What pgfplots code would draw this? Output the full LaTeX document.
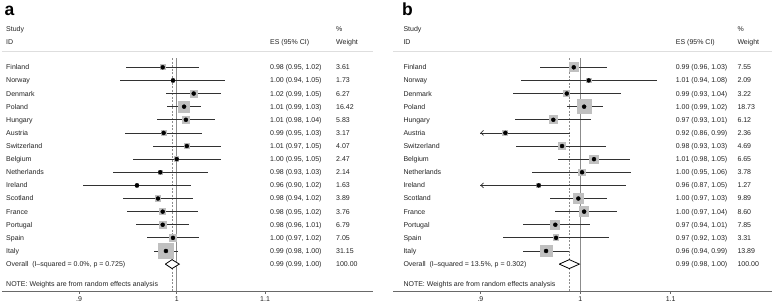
\documentclass[border=0pt]{standalone}
\usepackage{pgfplots}
\pgfplotsset{compat=1.18}
\usepackage{pgfplotstable}
\usepackage{fontspec}
\setmainfont{Liberation Sans}
\usetikzlibrary{arrows.meta}
\definecolor{cigray}{RGB}{50,50,50}
\definecolor{boxgray}{RGB}{192,192,192}
\definecolor{nullgray}{RGB}{140,140,140}
\definecolor{rulegray}{RGB}{222,222,222}
\definecolor{axgray}{RGB}{105,105,105}
\definecolor{txt}{RGB}{35,35,35}

% panel a: row, effect size, CI low, CI high, weight
\pgfplotstableread{
row es lo hi w
1 0.985 0.947 1.024 3.61
2 0.996 0.941 1.054 1.73
3 1.0185 0.9885 1.049 6.27
4 1.008 0.9896 1.027 16.42
5 1.010 0.979 1.042 5.83
6 0.986 0.946 1.028 3.17
7 1.011 0.975 1.049 4.07
8 1.000 0.954 1.049 2.47
9 0.9825 0.934 1.034 2.14
10 0.958 0.9036 1.0155 1.63
11 0.980 0.944 1.018 3.89
12 0.985 0.948 1.023 3.76
13 0.985 0.957 1.013 6.79
14 0.996 0.9685 1.024 7.05
15 0.9885 0.9758 1.0017 31.15
}\tabA

% panel b
\pgfplotstableread{
row es lo hi w
1 0.9931 0.9584 1.0289 7.55
2 1.0089 0.939 1.0839 2.09
3 0.9858 0.9312 1.0439 3.22
4 1.004 0.986 1.0246 18.73
5 0.9719 0.9334 1.0114 6.12
6 0.924 0.86 0.9895 2.36
7 0.9809 0.934 1.0275 4.69
8 1.0145 0.9765 1.0538 6.65
9 1.0018 0.9506 1.0553 3.78
10 0.957 0.87 1.0497 1.27
11 0.9979 0.9686 1.0286 9.89
12 1.004 0.9734 1.0391 8.60
13 0.974 0.9416 1.0099 7.85
14 0.9747 0.9214 1.031 3.31
15 0.9645 0.9416 0.9882 13.89
}\tabB

\newcommand{\ft}{\fontsize{7bp}{8bp}\selectfont}

\pgfplotsset{
  forest/.style={
    scale only axis, height=276.18bp,
    ymin=-18.05, ymax=3,
    axis x line=bottom, axis y line=none,
    x axis line style={-, draw=axgray, line width=0.7bp},
    xtick={0.9,1,1.1}, xticklabels={.9,1,1.1},
    minor xtick={},
    tick align=outside, major tick length=3bp,
    xtick style={draw=axgray, line width=0.7bp},
    xticklabel style={font=\ft, text=txt, inner sep=1bp, yshift=-1.5bp},
    clip=false,
  },
  boxes/.style={scatter, only marks, mark=square*,
    mark options={draw=boxgray, fill=boxgray, line width=0pt},
    scatter/use mapped color={draw=boxgray, fill=boxgray}},
}

\begin{document}
\begin{tikzpicture}[tx/.style={anchor=base west, inner sep=0pt, font=\ft, text=txt}]
\useasboundingbox (0,0) rectangle (778bp,304bp);

% ---------------- panel a ----------------
\begin{axis}[xmode=log, forest, at={(2bp,13bp)}, anchor=south west, width=371bp,
  xmin=0.8282, xmax=1.2359]
\addplot[rulegray, line width=0.9bp] coordinates {(0.8282,0.19) (1.2359,0.19)};
\addplot[nullgray, line width=1.4bp] coordinates {(1,-0.31) (1,-18.05)};
\addplot[draw=nullgray, line width=0.6bp, dash pattern=on 2bp off 1.5bp] coordinates {(0.995,-0.31) (0.995,-18.05)};
\addplot[boxgray, boxes,
  visualization depends on={1.4*sqrt(\thisrow{w}) \as \boxhalf},
  scatter/@pre marker code/.append style={/tikz/mark size=\boxhalf}]
  table[x=es, y expr=-\thisrow{row}] {\tabA};
\addplot[only marks, mark=none,
  error bars/.cd, x dir=both, x explicit, error mark=none,
  error bar style={draw=cigray, line width=0.8bp, solid}]
  table[x=es, y expr=-\thisrow{row},
    x error minus expr={\thisrow{es}-\thisrow{lo}},
    x error plus expr={\thisrow{hi}-\thisrow{es}}] {\tabA};
\addplot[only marks, mark=diamond*, mark size=1.2bp, black]
  table[x=es, y expr=-\thisrow{row}] {\tabA};
\addplot[black, fill=white, line width=0.8bp, line join=miter]
  coordinates {(0.9878,-16) (0.995,-15.66) (1.0028,-16) (0.995,-16.34) (0.9878,-16)};
\end{axis}

% ---------------- panel b ----------------
\begin{axis}[xmode=log, forest, at={(393bp,13bp)}, anchor=south west, width=378.7bp,
  xmin=0.8207, xmax=1.2237]
\addplot[rulegray, line width=0.9bp] coordinates {(0.8207,0.19) (1.2237,0.19)};
\addplot[nullgray, line width=1.4bp] coordinates {(1,-0.31) (1,-18.05)};
\addplot[draw=nullgray, line width=0.6bp, dash pattern=on 2bp off 1.5bp] coordinates {(0.9885,-0.31) (0.9885,-18.05)};
\addplot[boxgray, boxes,
  visualization depends on={1.6*sqrt(\thisrow{w}) \as \boxhalf},
  scatter/@pre marker code/.append style={/tikz/mark size=\boxhalf}]
  table[x=es, y expr=-\thisrow{row}] {\tabB};
\addplot[only marks, mark=none,
  error bars/.cd, x dir=both, x explicit, error mark=none,
  error bar style={draw=cigray, line width=0.8bp, solid}]
  table[x=es, y expr=-\thisrow{row},
    x error minus expr={\thisrow{es}-max(\thisrow{lo},0.9)},
    x error plus expr={\thisrow{hi}-\thisrow{es}}] {\tabB};
\addplot[cigray, line width=0.8bp, -{Straight Barb[length=2.5bp,width=5bp]}] coordinates {(0.915,-6) (0.9,-6)};
\addplot[cigray, line width=0.8bp, -{Straight Barb[length=2.5bp,width=5bp]}] coordinates {(0.915,-10) (0.9,-10)};
\addplot[only marks, mark=diamond*, mark size=1.2bp, black]
  table[x=es, y expr=-\thisrow{row}] {\tabB};
\addplot[black, fill=white, line width=0.8bp, line join=miter]
  coordinates {(0.978,-16) (0.9885,-15.66) (0.999,-16) (0.9885,-16.34) (0.978,-16)};
\end{axis}

% ---------------- texts ----------------
\node[anchor=base west, inner sep=0pt, font=\fontsize{17.5bp}{18bp}\selectfont\bfseries] at (4.5bp,288bp) {a};
\node[anchor=base west, inner sep=0pt, font=\fontsize{17.5bp}{18bp}\selectfont\bfseries] at (402bp,288bp) {b};

% headers a
\node[tx] at (6bp,272.8bp) {Study};
\node[tx] at (6bp,259.8bp) {ID};
\node[tx] at (270bp,259.8bp) {ES (95\% CI)};
\node[tx] at (336bp,272.8bp) {\%};
\node[tx] at (336bp,259.8bp) {Weight};
% headers b
\node[tx] at (403.3bp,272.8bp) {Study};
\node[tx] at (403.3bp,259.8bp) {ID};
\node[tx] at (675.7bp,259.8bp) {ES (95\% CI)};
\node[tx] at (737.3bp,272.8bp) {\%};
\node[tx] at (737.3bp,259.8bp) {Weight};

\foreach \nm/\es/\wt [count=\i] in {
  Finland/{0.98 (0.95, 1.02)}/3.61,
  Norway/{1.00 (0.94, 1.05)}/1.73,
  Denmark/{1.02 (0.99, 1.05)}/6.27,
  Poland/{1.01 (0.99, 1.03)}/16.42,
  Hungary/{1.01 (0.98, 1.04)}/5.83,
  Austria/{0.99 (0.95, 1.03)}/3.17,
  Switzerland/{1.01 (0.97, 1.05)}/4.07,
  Belgium/{1.00 (0.95, 1.05)}/2.47,
  Netherlands/{0.98 (0.93, 1.03)}/2.14,
  Ireland/{0.96 (0.90, 1.02)}/1.63,
  Scotland/{0.98 (0.94, 1.02)}/3.89,
  France/{0.98 (0.95, 1.02)}/3.76,
  Portugal/{0.98 (0.96, 1.01)}/6.79,
  Spain/{1.00 (0.97, 1.02)}/7.05,
  Italy/{0.99 (0.98, 1.00)}/31.15}{
  \node[tx] at (6bp,{234.2bp-13.12bp*(\i-1)}) {\nm};
  \node[tx] at (270bp,{234.2bp-13.12bp*(\i-1)}) {\es};
  \node[tx] at (336bp,{234.2bp-13.12bp*(\i-1)}) {\wt};
}
\foreach \nm/\es/\wt [count=\i] in {
  Finland/{0.99 (0.96, 1.03)}/7.55,
  Norway/{1.01 (0.94, 1.08)}/2.09,
  Denmark/{0.99 (0.93, 1.04)}/3.22,
  Poland/{1.00 (0.99, 1.02)}/18.73,
  Hungary/{0.97 (0.93, 1.01)}/6.12,
  Austria/{0.92 (0.86, 0.99)}/2.36,
  Switzerland/{0.98 (0.93, 1.03)}/4.69,
  Belgium/{1.01 (0.98, 1.05)}/6.65,
  Netherlands/{1.00 (0.95, 1.06)}/3.78,
  Ireland/{0.96 (0.87, 1.05)}/1.27,
  Scotland/{1.00 (0.97, 1.03)}/9.89,
  France/{1.00 (0.97, 1.04)}/8.60,
  Portugal/{0.97 (0.94, 1.01)}/7.85,
  Spain/{0.97 (0.92, 1.03)}/3.31,
  Italy/{0.96 (0.94, 0.99)}/13.89}{
  \node[tx] at (403.3bp,{234.2bp-13.12bp*(\i-1)}) {\nm};
  \node[tx] at (675.7bp,{234.2bp-13.12bp*(\i-1)}) {\es};
  \node[tx] at (737.3bp,{234.2bp-13.12bp*(\i-1)}) {\wt};
}

% overall and note rows
\node[tx] at (6bp,37.1bp) {Overall\ \ (I--squared = 0.0\%, p = 0.725)};
\node[tx] at (270bp,37.1bp) {0.99 (0.99, 1.00)};
\node[tx] at (336bp,37.1bp) {100.00};
\node[tx] at (6bp,17.8bp) {NOTE: Weights are from random effects analysis};
\node[tx] at (403.3bp,37.1bp) {Overall\ \ (I--squared = 13.5\%, p = 0.302)};
\node[tx] at (675.7bp,37.1bp) {0.99 (0.98, 1.00)};
\node[tx] at (737.3bp,37.1bp) {100.00};
\node[tx] at (403.3bp,17.8bp) {NOTE: Weights are from random effects analysis};
\end{tikzpicture}
\end{document}
